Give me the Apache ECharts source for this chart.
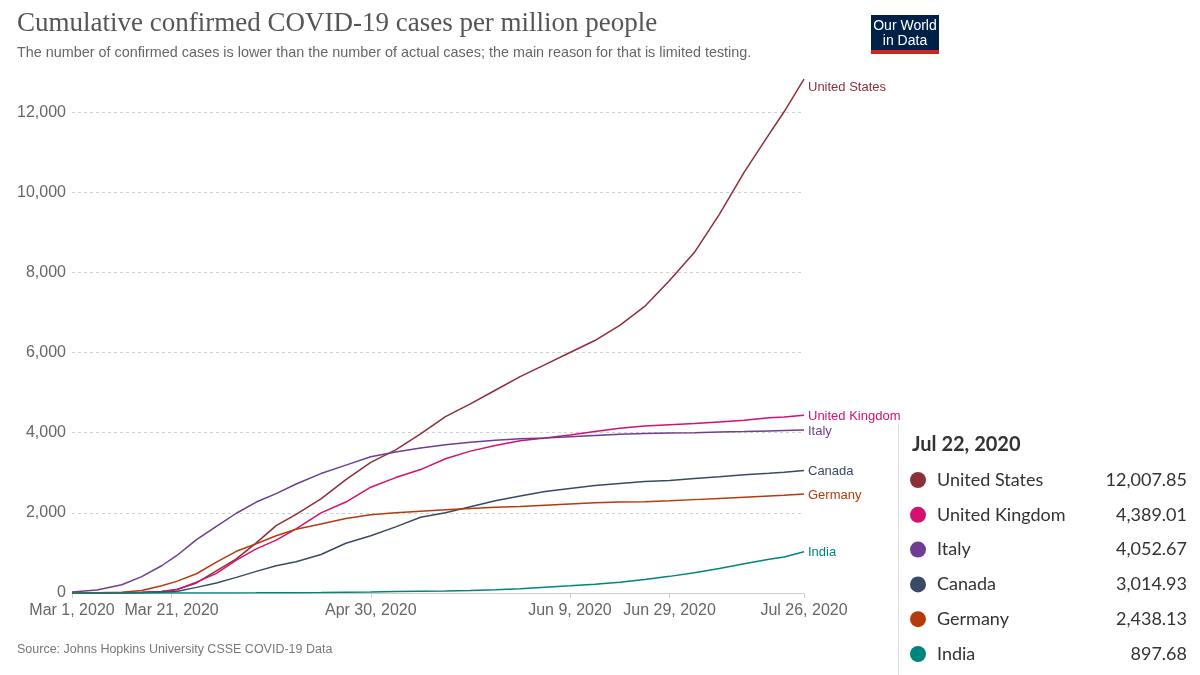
<!DOCTYPE html>
<html><head><meta charset="utf-8">
<script src="https://cdn.jsdelivr.net/npm/echarts@6/dist/echarts.min.js"></script>
<style>html,body{margin:0;padding:0;background:#fff}#c{width:1200px;height:675px}</style>
</head><body><div id="c"></div>
<script>
// ---- data (cases per million) ----
const dates = ['2020-03-01','2020-03-06','2020-03-11','2020-03-15','2020-03-19','2020-03-22','2020-03-26','2020-03-30','2020-04-03','2020-04-07','2020-04-11','2020-04-15','2020-04-20','2020-04-25','2020-04-30','2020-05-05','2020-05-10','2020-05-15','2020-05-20','2020-05-25','2020-05-30','2020-06-04','2020-06-09','2020-06-14','2020-06-19','2020-06-24','2020-06-29','2020-07-04','2020-07-09','2020-07-14','2020-07-19','2020-07-22','2020-07-26'];
const unitedStates = [0.2,0.7,3.7,10,40,85,250,550,850,1250,1680,1960,2350,2830,3260,3570,3970,4400,4720,5060,5400,5700,6000,6300,6680,7150,7800,8500,9450,10500,11450,12007.85,12820];
const unitedKingdom = [0.4,2.4,6.8,21,40,80,270,490,820,1100,1320,1600,2000,2270,2640,2880,3080,3350,3540,3680,3800,3870,3940,4030,4110,4170,4200,4230,4270,4310,4370,4389.01,4435];
const italy = [28,77,206,410,680,930,1330,1660,1990,2270,2480,2720,2980,3190,3400,3520,3620,3700,3760,3810,3850,3870,3900,3930,3960,3980,3990,4000,4020,4030,4045,4052.67,4065];
const canada = [0.5,1,2.5,6,20,40,140,250,390,540,680,780,960,1240,1430,1650,1890,2000,2150,2300,2420,2530,2610,2680,2730,2780,2810,2860,2900,2950,2990,3014.93,3055];
const germany = [1,5,18,60,180,290,480,770,1040,1230,1430,1590,1720,1860,1950,2000,2040,2080,2110,2140,2160,2190,2220,2250,2270,2280,2300,2330,2360,2390,2420,2438.13,2468];
const india = [0,0.02,0.05,0.08,0.15,0.25,0.5,0.9,2,3.5,6,9,13,19,25,36,45,50,62,82,108,145,180,220,270,335,415,505,610,730,840,897.68,1030];
const xTickDates = ['2020-03-01','2020-03-21','2020-04-30','2020-06-09','2020-06-29','2020-07-26'];
const tooltipDate = '2020-07-22';

const seriesDefs = [
  {name:'United States', data: unitedStates, color:'#8c2f3a', labelOffset:[0,8]},
  {name:'United Kingdom', data: unitedKingdom, color:'#d6106f', labelOffset:[0,1]},
  {name:'Italy', data: italy, color:'#6d3e91', labelOffset:[0,1]},
  {name:'Canada', data: canada, color:'#3a4a63', labelOffset:[0,1]},
  {name:'Germany', data: germany, color:'#b63b0b', labelOffset:[0,1]},
  {name:'India', data: india, color:'#00857c', labelOffset:[0,1]}
];

const DAY = 86400000;
const start = Date.parse(dates[0]);
const dayOf = d => Math.round((Date.parse(d) - start) / DAY);
const MONTHS = ['Jan','Feb','Mar','Apr','May','Jun','Jul','Aug','Sep','Oct','Nov','Dec'];
const fmtDay = v => { const dt = new Date(start + v * DAY); return MONTHS[dt.getUTCMonth()] + ' ' + dt.getUTCDate() + ', ' + dt.getUTCFullYear(); };
const xTicks = xTickDates.map(dayOf);
const SANS = '"Liberation Sans", Arial, sans-serif';

const chart = echarts.init(document.getElementById('c'), null, {renderer:'canvas'});

const tipIdx = dates.indexOf(tooltipDate);
const graphics = [
  {type:'rect', shape:{x:871, y:15, width:68, height:39}, style:{fill:'#002147'}},
  {type:'rect', shape:{x:871, y:50, width:68, height:4}, style:{fill:'#ce261e'}},
  {type:'text', x:905, y:26, style:{text:'Our World', fill:'#fff', font:'14px ' + SANS, align:'center', verticalAlign:'middle'}},
  {type:'text', x:905, y:41, style:{text:'in Data', fill:'#fff', font:'14px ' + SANS, align:'center', verticalAlign:'middle'}},
  {type:'text', x:17, y:650, style:{text:'Source: Johns Hopkins University CSSE COVID-19 Data', fill:'#777', font:'12.5px ' + SANS, verticalAlign:'middle'}},
  {type:'rect', shape:{x:898, y:424, width:302, height:251}, style:{fill:'#fff'}, z:100},
  {type:'line', shape:{x1:898.5, y1:424, x2:898.5, y2:675}, style:{stroke:'#ddd', lineWidth:1}, z:101},
  {type:'text', x:912, y:445, z:101, style:{text: fmtDay(dayOf(tooltipDate)), fill:'#333', font:'bold 20px Lato, sans-serif', verticalAlign:'middle'}}
];
seriesDefs.forEach((s, i) => {
  const cy = 480 + 34.8 * i;
  const v = s.data[tipIdx];
  graphics.push({type:'circle', z:101, shape:{cx:918, cy:cy, r:8}, style:{fill:s.color}});
  graphics.push({type:'text', z:101, x:937, y:cy, style:{text:s.name, fill:'#333', font:'18px Lato, sans-serif', verticalAlign:'middle'}});
  graphics.push({type:'text', z:101, x:1187, y:cy, style:{text:v.toLocaleString('en-US',{minimumFractionDigits:2, maximumFractionDigits:2}), fill:'#333', font:'18px Lato, sans-serif', align:'right', verticalAlign:'middle'}});
});

chart.setOption({
  animation:false,
  backgroundColor:'#fff',
  title:{
    text:'Cumulative confirmed COVID-19 cases per million people',
    subtext:'The number of confirmed cases is lower than the number of actual cases; the main reason for that is limited testing.',
    left:12, top:5, itemGap:9,
    textStyle:{fontFamily:'"Liberation Serif", Georgia, serif', fontSize:27, fontWeight:'normal', color:'#555'},
    subtextStyle:{fontFamily:SANS, fontSize:14.4, color:'#666'}
  },
  grid:{left:72, right:396, top:62, bottom:82},
  xAxis:{
    type:'value', min:0, max:dayOf(dates[dates.length-1]),
    axisLine:{show:true, lineStyle:{color:'#ccc'}},
    axisTick:{show:true, customValues:xTicks, length:5, lineStyle:{color:'#ccc'}},
    axisLabel:{customValues:xTicks, formatter:fmtDay, fontSize:16, color:'#666', fontFamily:SANS, margin:10},
    splitLine:{show:false}
  },
  yAxis:{
    type:'value', min:0, max:13250, interval:2000,
    axisLine:{show:false}, axisTick:{show:false},
    axisLabel:{showMaxLabel:false, formatter:v => v.toLocaleString('en-US'), fontSize:16, color:'#666', fontFamily:SANS, margin:6},
    splitLine:{show:true, showMaxLine:false, lineStyle:{type:[3,3], color:'#d0d0d0'}}
  },
  graphic:graphics,
  series: seriesDefs.map(s => ({
    name:s.name, type:'line', showSymbol:false, symbol:'none',
    data: s.data.map((v, i) => [dayOf(dates[i]), v]),
    lineStyle:{color:s.color, width:1.5},
    itemStyle:{color:s.color},
    endLabel:{show:true, formatter:'{a}', color:s.color, fontSize:13, fontFamily:SANS, distance:4, offset:s.labelOffset}
  }))
});
</script>
</body></html>
